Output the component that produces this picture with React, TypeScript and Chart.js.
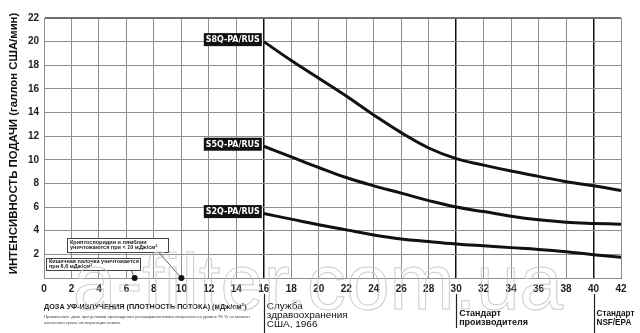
import React, { useEffect, useRef } from "react";
import { Chart, registerables } from "chart.js";

Chart.register(...registerables);

// ---- data ----
const doseX = [16, 18, 20, 22, 24, 26, 28, 30, 32, 34, 36, 38, 40, 42];
const s8q = [20.0, 18.4, 16.9, 15.4, 13.8, 12.3, 11.0, 10.1, 9.55, 9.05, 8.6, 8.15, 7.8, 7.4];
const s5q = [11.15, 10.25, 9.35, 8.5, 7.8, 7.18, 6.55, 6.0, 5.62, 5.22, 4.92, 4.72, 4.62, 4.55];
const s2q = [5.45, 4.98, 4.5, 4.07, 3.64, 3.3, 3.08, 2.88, 2.72, 2.57, 2.42, 2.22, 1.97, 1.75];
const seriesNames = ["S8Q-PA/RUS", "S5Q-PA/RUS", "S2Q-PA/RUS"];
const killDoses = [6.6, 10];
const standardDoses = [16, 30, 40];
const yTitle = "ИНТЕНСИВНОСТЬ ПОДАЧИ (галлон США/мин)";
const xTitle = "ДОЗА УФ-ИЗЛУЧЕНИЯ (ПЛОТНОСТЬ ПОТОКА) (мДж/см²)";
const noteLines = [
  "Примечание: доза при условии прохождения ультрафиолетового излучения на уровне 95 % на момент",
  "окончания срока эксплуатации лампы.",
];
const cryptoLines = ["Криптоспоридии и лямблии", "уничтожаются при < 10 мДж/см²"];
const ecoliLines = ["Кишечная палочка уничтожается", "при 6,6 мДж/см²"];
const standardLabels = [
  ["Служба", "здравоохранения", "США, 1966"],
  ["Стандарт", "производителя"],
  ["Стандарт", "NSF/EPA"],
];
const watermark = "a-filter.com.ua";

const toPts = (ys: number[]) => ys.map((y, i) => ({ x: doseX[i], y }));

function fitFont(ctx: CanvasRenderingContext2D, text: string, weight: string, family: string, targetW: number, base: number) {
  ctx.font = `${weight} ${base}px ${family}`;
  const w = ctx.measureText(text).width;
  const size = (base * targetW) / w;
  ctx.font = `${weight} ${size}px ${family}`;
}

const overlay = {
  id: "overlay",
  afterDatasetsDraw(chart: any) {
    const ctx: CanvasRenderingContext2D = chart.ctx;
    const xs = chart.scales.x;
    const ys = chart.scales.y;
    ctx.save();

    // series labels (black boxes)
    const firstY = [s8q[0], s5q[0], s2q[0]];
    seriesNames.forEach((name, i) => {
      const right = xs.getPixelForValue(16) - 2;
      const cy = ys.getPixelForValue(firstY[i]) - 2;
      const w = 58;
      const h = 13;
      ctx.fillStyle = "#111";
      ctx.fillRect(right - w, cy - h / 2, w, h);
      ctx.fillStyle = "#fff";
      ctx.textAlign = "center";
      ctx.textBaseline = "middle";
      fitFont(ctx, name, "bold", "'DejaVu Sans Condensed'", 54, 10);
      ctx.fillText(name, right - w / 2, cy + 0.5);
    });

    // extended standard lines below axis
    ctx.strokeStyle = "#222";
    ctx.lineWidth = 1.2;
    const ends = [333, 328, 333];
    standardDoses.forEach((d, i) => {
      const px = Math.round(xs.getPixelForValue(d)) + 0.5;
      ctx.beginPath();
      ctx.moveTo(px, 294);
      ctx.lineTo(px, ends[i]);
      ctx.stroke();
    });

    // standard labels
    ctx.fillStyle = "#111";
    ctx.textAlign = "left";
    ctx.textBaseline = "middle";
    {
      const x0 = xs.getPixelForValue(16) + 3;
      const ysL = [306.5, 315.5, 324.5];
      fitFont(ctx, "здравоохранения", "normal", "'Liberation Sans'", 81, 11);
      standardLabels[0].forEach((t, i) => ctx.fillText(t, x0, ysL[i]));
    }
    {
      const x0 = xs.getPixelForValue(30) + 3;
      fitFont(ctx, "производителя", "bold", "'Liberation Sans'", 69, 9);
      ctx.fillText(standardLabels[1][0], x0, 313.5);
      ctx.fillText(standardLabels[1][1], x0, 323);
    }
    {
      const x0 = xs.getPixelForValue(40) + 3;
      fitFont(ctx, "Стандарт", "bold", "'Liberation Sans'", 38, 9);
      ctx.fillText(standardLabels[2][0], x0, 313.5);
      ctx.fillText(standardLabels[2][1], x0, 323);
    }

    // axis titles
    ctx.save();
    ctx.translate(14, 143.5);
    ctx.rotate(-Math.PI / 2);
    ctx.textAlign = "center";
    fitFont(ctx, yTitle, "bold", "'Liberation Sans'", 262, 12);
    ctx.fillStyle = "#111";
    ctx.fillText(yTitle, 0, 0);
    ctx.restore();

    ctx.textAlign = "left";
    ctx.fillStyle = "#222";
    fitFont(ctx, xTitle, "bold", "'Liberation Sans'", 203, 8);
    ctx.fillText(xTitle, 44, 306.5);
    ctx.fillStyle = "#444";
    fitFont(ctx, noteLines[0], "normal", "'Liberation Sans'", 207, 5);
    ctx.fillText(noteLines[0], 44, 316.5);
    ctx.fillText(noteLines[1], 44, 322.5);

    // kill-dose annotations
    const y0 = ys.getPixelForValue(0);
    const dx1 = xs.getPixelForValue(killDoses[0]);
    const dx2 = xs.getPixelForValue(killDoses[1]);
    ctx.strokeStyle = "#333";
    ctx.lineWidth = 0.8;
    ctx.beginPath();
    ctx.moveTo(158, 251.5);
    ctx.lineTo(dx2, y0);
    ctx.moveTo(131, 270);
    ctx.lineTo(dx1, y0);
    ctx.stroke();

    const box = (x: number, y: number, w: number, h: number, lines: string[]) => {
      ctx.fillStyle = "#fff";
      ctx.fillRect(x, y, w, h);
      ctx.strokeStyle = "#444";
      ctx.lineWidth = 1;
      ctx.strokeRect(x + 0.5, y + 0.5, w, h);
      ctx.fillStyle = "#222";
      ctx.textAlign = "left";
      ctx.textBaseline = "middle";
      ctx.font = "bold 5.5px 'Liberation Sans'";
      ctx.fillText(lines[0], x + 3, y + h * 0.3);
      ctx.fillText(lines[1], x + 3, y + h * 0.7);
    };
    box(67, 238, 101, 14, cryptoLines);
    box(46, 258, 94, 12, ecoliLines);

    ctx.fillStyle = "#111";
    [dx1, dx2].forEach((px) => {
      ctx.beginPath();
      ctx.arc(px, y0, 3, 0, Math.PI * 2);
      ctx.fill();
    });

    // watermark
    ctx.textAlign = "left";
    ctx.textBaseline = "alphabetic";
    ctx.strokeStyle = "rgba(195,195,195,0.85)";
    ctx.lineWidth = 1;
    fitFont(ctx, watermark, "normal", "'Liberation Sans'", 490, 77);
    ctx.strokeText(watermark, 73, 309);

    ctx.restore();
  },
};

export default function App() {
  const ref = useRef<HTMLCanvasElement>(null);
  useEffect(() => {
    if (!ref.current) return;
    const lineDs = (data: number[]) => ({
      data: toPts(data),
      borderColor: "#111",
      borderWidth: 3,
      pointRadius: 0,
      tension: 0.4,
      fill: false,
    });
    const chart = new Chart(ref.current, {
      type: "line",
      data: {
        datasets: [lineDs(s8q), lineDs(s5q), lineDs(s2q)],
      },
      plugins: [overlay],
      options: {
        responsive: false,
        animation: false,
        layout: { padding: { top: 18, right: 19, left: 0, bottom: 0 } },
        plugins: { legend: { display: false }, tooltip: { enabled: false } },
        scales: {
          x: {
            type: "linear",
            min: 0,
            max: 42,
            afterFit: (s: any) => {
              s.height = 55;
            },
            ticks: {
              stepSize: 2,
              padding: 5,
              color: "#222",
              font: { family: "'Liberation Sans'", size: 10, weight: "bold" },
              maxRotation: 0,
              autoSkip: false,
            },
            grid: {
              drawTicks: false,
              color: (c: any) => (standardDoses.includes(c.tick?.value) ? "#111" : "#8e8e8e"),
              lineWidth: (c: any) => (standardDoses.includes(c.tick?.value) ? 1.5 : 1),
            },
            border: { color: "#8e8e8e", width: 1 },
          },
          y: {
            min: 0,
            max: 22,
            afterFit: (s: any) => {
              s.width = 44;
            },
            ticks: {
              stepSize: 2,
              padding: 5,
              color: "#222",
              font: { family: "'Liberation Sans'", size: 10, weight: "bold" },
              callback: (v: any) => (v === 0 ? "" : String(v)),
            },
            grid: {
              drawTicks: false,
              color: (c: any) => (c.tick?.value === 22 ? "#6e6e6e" : "#8e8e8e"),
              lineWidth: (c: any) => (c.tick?.value === 22 ? 2 : 1),
            },
            border: { color: "#8e8e8e", width: 1 },
          },
        },
      },
    });
    return () => chart.destroy();
  }, []);
  return (
    <div style={{ position: "fixed", left: 0, top: 0, width: 640, height: 333, background: "#fff" }}>
      <canvas ref={ref} width={640} height={333} style={{ width: 640, height: 333 }} />
    </div>
  );
}
